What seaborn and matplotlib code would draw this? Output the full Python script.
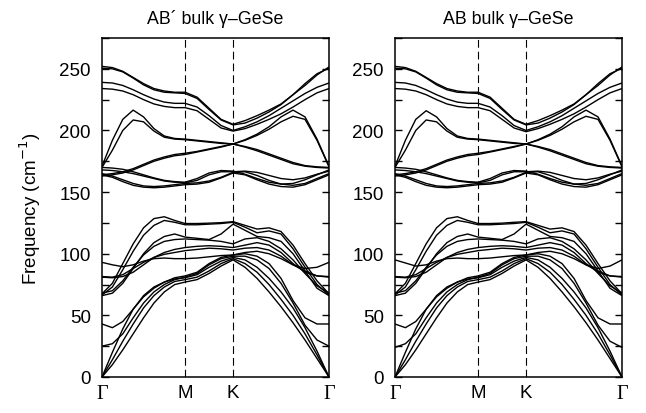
import numpy as np
import pandas as pd
import matplotlib
matplotlib.use("Agg")
import matplotlib.pyplot as plt
from matplotlib.ticker import MultipleLocator, FuncFormatter
import seaborn as sns

# ---------------- k-path (hexagonal Γ-M-K-Γ) ----------------
seg_lengths = [1 / np.sqrt(3), 1 / 3, 2 / 3]       # Γ-M, M-K, K-Γ
seg_points = [8, 4, 8]                              # sample intervals per segment
k_labels = ["Γ", "M", "K", "Γ"]
titles = ["AB\u00b4 bulk \u03b3\u2013GeSe", "AB bulk \u03b3\u2013GeSe"]

# ---------------- AB' bulk (left panel) ----------------
abp_acoustic = [
    [0, 10, 22, 35, 48, 60, 69, 75, 77, 79, 84, 90, 95, 89, 80, 69, 57, 44, 30, 15, 0],
    [0, 14, 29, 43, 56, 66, 73, 77.5, 79, 81, 86, 92, 96, 92, 85, 75, 63, 50, 35, 18, 0],
    [0, 20, 39, 55, 66, 73, 77, 79.5, 80.5, 83, 89, 94, 97, 95, 89, 80, 69, 56, 40, 21, 0],
]
abp_low_optical = [
    [25, 27, 35, 48, 60, 69, 75, 79, 81, 84, 91, 96, 98, 98, 95, 88, 76, 60, 42, 30, 25],
    [43, 40, 45, 55, 65, 72, 77, 80.5, 82, 85, 92, 97, 99, 100, 98, 92, 80, 62, 48, 43, 43],
]
abp_mid_optical = [
    [67.5, 76, 92, 108, 121, 128.5, 130, 127, 124.5, 124.5, 124.8, 125.2, 126, 123, 120, 121, 118, 107, 92, 78, 67.5],
    [66.5, 73, 87, 102, 115, 123, 127, 125.5, 123.5, 123.5, 124, 124.5, 125.5, 121.5, 117, 118.5, 116, 104, 89, 75, 66.5],
    [66, 68, 76, 88, 100, 109, 114, 116, 113.5, 112.5, 111.5, 116, 124, 119, 114, 113, 110, 100, 86, 72, 66],
    [68, 70, 78, 89, 99, 106, 110, 111.5, 112, 111.5, 111, 110, 108, 112, 113, 110, 104, 95, 84, 74, 68],
    [81, 80.5, 81.5, 85, 91, 97, 101, 103.5, 105, 106, 106.5, 106, 105, 107, 109, 107, 101, 92, 85, 82, 81.5],
    [81.5, 81, 83, 88, 93, 97, 99.5, 101, 102.5, 103.5, 104.5, 104, 103, 104.5, 105, 103, 98, 91, 86, 82, 81],
    [93, 91, 89.5, 91, 94, 96, 96.5, 96, 96, 96.5, 97.5, 98.5, 99, 101, 102, 100, 96, 91, 88, 89, 93],
]
abp_upper_low = [
    [164, 162, 158.5, 155.5, 154, 153.5, 154, 155, 156, 156.5, 158, 161.5, 165.5, 164, 160, 156.5, 154.5, 154, 156, 160, 164],
    [165, 163, 160, 157, 155, 154.5, 155, 156, 157, 157.5, 159, 162, 166, 166.5, 163.5, 159.5, 156.5, 155.5, 157, 161, 165],
    [168, 167.5, 166.5, 165, 163, 161, 159, 158, 157.5, 159.5, 164, 166.5, 166.5, 167, 166, 163.5, 161, 160, 161.5, 164.5, 167],
    [170, 169.5, 168.5, 166.5, 164, 161.5, 159.5, 158.5, 158, 161, 165.5, 167.5, 167, 164.5, 161, 158, 156.5, 157, 160, 164, 168],
]
abp_upper_mid = [
    [163, 164, 165.5, 168, 171.5, 175, 177.5, 179.5, 180.5, 182.5, 184.5, 186.5, 189, 192, 196, 201, 207, 211.5, 209, 192, 170.5],
    [164, 165, 166.5, 169, 172.5, 176, 178.5, 180.5, 181.5, 183, 185, 187, 189, 192.5, 197, 203, 211, 216.5, 211, 193, 171],
    [170, 184, 200, 208.5, 207, 199.5, 194.5, 193, 192.5, 191.5, 190.5, 189.5, 189, 186.5, 183.5, 180, 176.5, 173, 171, 170, 169.5],
    [171, 192, 209, 216.5, 211, 201.5, 195.5, 193.5, 193, 192, 191, 190, 189, 187, 184.5, 181, 177.5, 174, 171.5, 170.5, 170],
]
abp_upper_high = [
    [234, 233.5, 232, 229, 225, 221.5, 219.5, 218.5, 218.5, 216, 209, 202, 199.5, 201.5, 205, 209, 213.5, 219, 225, 230.5, 234],
    [239, 238.5, 236.5, 233, 229, 225.5, 223, 222, 222, 219, 212, 204, 200, 203, 207, 212, 218, 224, 230, 235, 238.5],
    [250.5, 250, 247.5, 242.5, 237, 233, 231, 230.5, 230, 226, 217, 208.5, 204.5, 206, 210, 215, 221, 229, 238, 246, 250.5],
    [252, 251, 248, 243, 238, 234, 232, 231, 231, 227, 218, 209, 205, 208, 212, 216.5, 221.5, 229, 236.5, 245, 251.5],
]

# ---------------- AB bulk (right panel) ----------------
ab_acoustic = [
    [0, 10, 22, 35, 48, 60, 69, 75, 77, 79, 84, 90, 95, 89, 80, 69, 57, 44, 30, 15, 0],
    [0, 14, 29, 43, 56, 66, 73, 77.5, 79, 81, 86, 92, 96, 92, 85, 75, 63, 50, 35, 18, 0],
    [0, 20, 39, 55, 66, 73, 77, 79.5, 80.5, 83, 89, 94, 97, 95, 89, 80, 69, 56, 40, 21, 0],
]
ab_low_optical = [
    [24, 27, 35, 48, 60, 69, 75, 79, 81, 84, 91, 96, 98, 98, 95, 88, 76, 60, 42, 29, 24],
    [43, 40, 45, 55, 65, 72, 77, 80.5, 82, 85, 92, 97, 99, 100, 98, 92, 80, 62, 48, 43, 43],
]
ab_mid_optical = [
    [67.5, 76, 92, 108, 121, 128.5, 130, 127, 124.5, 124.5, 124.8, 125.5, 126, 123, 120, 121, 118, 107, 92, 78, 67.5],
    [66.5, 73, 87, 102, 115, 123, 127, 125.5, 123.5, 123.5, 124, 124.5, 125.5, 121.5, 117, 118.5, 116, 104, 89, 75, 66.5],
    [66, 68, 76, 88, 100, 109, 114, 116, 113.5, 112.5, 111.5, 116, 124, 119, 114, 113, 110, 100, 86, 72, 66],
    [68, 70, 78, 89, 99, 106, 110, 111.5, 112, 111.5, 111, 110, 108, 112, 113, 110, 104, 95, 84, 74, 68],
    [81, 80.5, 81.5, 85, 91, 97, 101, 103.5, 105, 106, 106.5, 106, 105, 107, 109, 107, 101, 92, 85, 82, 81.5],
    [81.5, 81, 83, 88, 93, 97, 99.5, 101, 102.5, 103.5, 104.5, 104, 103, 104.5, 105, 103, 98, 91, 86, 82, 81],
    [95, 92.5, 90, 91, 94, 96, 96.5, 96, 96, 96.5, 97.5, 98.5, 99, 101, 102, 100, 96, 91, 88, 90, 95],
]
ab_upper_low = [
    [164, 162, 158.5, 155.5, 154, 153.5, 154, 155, 156, 156.5, 158, 161.5, 165.5, 164, 160, 156.5, 154.5, 154, 156, 160, 164],
    [165, 163, 160, 157, 155, 154.5, 155, 156, 157, 157.5, 159, 162, 166, 166.5, 163.5, 159.5, 156.5, 155.5, 157, 161, 165],
    [168, 167.5, 166.5, 165, 163, 161, 159, 158, 157.5, 159.5, 164, 166.5, 166.5, 167, 166, 163.5, 161, 160, 161.5, 164.5, 167],
    [170, 169.5, 168.5, 166.5, 164, 161.5, 159.5, 158.5, 158, 161, 165.5, 167.5, 167, 164.5, 161, 158, 156.5, 157, 160, 164, 168],
]
ab_upper_mid = [
    [163, 164, 165.5, 168, 171.5, 175, 177.5, 179.5, 180.5, 182.5, 184.5, 186.5, 189, 192, 196, 201, 207, 211.5, 209, 192, 170.5],
    [164, 165, 166.5, 169, 172.5, 176, 178.5, 180.5, 181.5, 183, 185, 187, 189, 192.5, 197, 203, 211, 216.5, 211, 193, 171],
    [170, 184, 200, 208.5, 207, 199.5, 194.5, 193, 192.5, 191.5, 190.5, 189.5, 189, 186.5, 183.5, 180, 176.5, 173, 171, 170, 169.5],
    [171, 192, 209, 216, 211, 201.5, 195.5, 193.5, 193, 192, 191, 190, 189, 187, 184.5, 181, 177.5, 174, 171.5, 170.5, 170],
]
ab_upper_high = [
    [234, 233.5, 232, 229, 225, 221.5, 219.5, 218.5, 218.5, 216, 209, 202, 199, 201.5, 205, 209, 213.5, 219, 225, 230.5, 234],
    [239, 238.5, 236.5, 233, 229, 225.5, 223, 222, 222, 219, 212, 204, 200, 203, 207, 212, 218, 224, 230, 235, 238.5],
    [250.5, 250, 247.5, 242.5, 237, 233, 231, 230.5, 230, 226, 217, 208.5, 204.5, 206, 210, 215, 221, 229, 238, 246, 250.5],
    [252, 251, 248, 243, 238, 234, 232, 231, 231, 227, 218, 209, 205, 208, 212, 216.5, 221.5, 229, 236.5, 245, 251.5],
]

panels = [
    abp_acoustic + abp_low_optical + abp_mid_optical + abp_upper_low + abp_upper_mid + abp_upper_high,
    ab_acoustic + ab_low_optical + ab_mid_optical + ab_upper_low + ab_upper_mid + ab_upper_high,
]

# k coordinates along the path
kpath = [0.0]
start = 0.0
for L, n in zip(seg_lengths, seg_points):
    kpath += list(start + L * np.arange(1, n + 1) / n)
    start += L
kpath = np.array(kpath)
k_ticks = np.concatenate([[0], np.cumsum(seg_lengths)])

# ---------------- figure ----------------
sns.set_theme(style="white")
plt.rcParams["font.family"] = ["Liberation Sans", "DejaVu Sans"]
plt.rcParams["axes.edgecolor"] = "black"
plt.rcParams["axes.linewidth"] = 1.1

W, H = 646, 414
fig = plt.figure(figsize=(W / 100, H / 100), dpi=100)
axes = [fig.add_axes([102 / W, 1 - 378 / H, 227 / W, 339 / H]),
        fig.add_axes([395 / W, 1 - 378 / H, 227 / W, 339 / H])]

for ax, bands, title in zip(axes, panels, titles):
    rows = []
    for b, freqs in enumerate(bands):
        for k, f in zip(kpath, freqs):
            rows.append((b, k, f))
    df = pd.DataFrame(rows, columns=["band", "k", "freq"])
    sns.lineplot(data=df, x="k", y="freq", units="band", estimator=None,
                 color="black", lw=1.0, sort=False, legend=False, ax=ax)
    for kt in k_ticks[1:-1]:
        ax.axvline(kt, color="black", lw=0.8, ls=(0, (7, 3.6)), zorder=0)
    ax.set_xlim(k_ticks[0], k_ticks[-1])
    ax.set_ylim(0, 275)
    ax.yaxis.set_major_locator(MultipleLocator(25))
    ax.yaxis.set_major_formatter(FuncFormatter(lambda v, p: f"{int(v)}" if v % 50 == 0 else ""))
    ax.tick_params(axis="y", direction="in", left=True, right=True, length=5, width=1.0,
                   labelsize=13.5, pad=8, colors="black")
    ax.set_xticks(k_ticks)
    ax.set_xticklabels(k_labels)
    ax.tick_params(axis="x", length=0, labelsize=13.5, pad=5, colors="black")
    for lab in ax.get_xticklabels():
        if lab.get_text() == "Γ":
            lab.set_fontfamily(["Liberation Serif", "DejaVu Serif"])
            lab.set_fontsize(14.5)
    ax.set_xlabel("")
    ax.set_ylabel("")
    ax.set_title(title, fontsize=12.8, pad=11, color="black")
    for s in ax.spines.values():
        s.set_visible(True)
        s.set_color("black")

axes[0].set_ylabel("Frequency (cm$^{-1}$)", fontsize=13.5, color="black", labelpad=12)

fig.savefig("out.png", dpi=100)
